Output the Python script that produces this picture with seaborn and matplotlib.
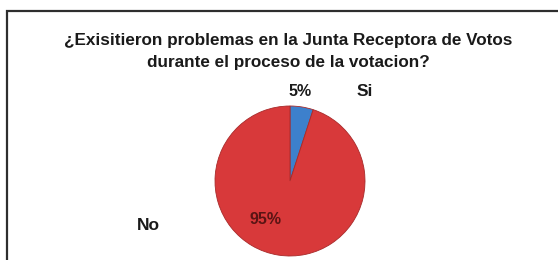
import matplotlib.pyplot as plt
from matplotlib.patches import Rectangle
import seaborn as sns

# Data
answers = ['Si', 'No']
shares = [5, 95]
slice_colors = ['#3d80cc', '#d8393a']
title_lines = ['¿Exisitieron problemas en la Junta Receptora de Votos',
               'durante el proceso de la votacion?']

sns.set_theme(style='white')
plt.rcParams['font.family'] = ['Liberation Sans', 'DejaVu Sans']

W, H = 558, 260
fig = plt.figure(figsize=(W / 100, H / 100), dpi=100)
ax = fig.add_axes([0, 0, 1, 1])


def py(y):
    # picture y (top-down) -> axes y
    return H - y


# pie
cx, cy, r = 290, 181, 75
ax.pie(shares, colors=slice_colors, startangle=90, counterclock=False,
       center=(cx, py(cy)), radius=r, frame=True,
       wedgeprops=dict(edgecolor='#a82a2a', linewidth=0.6))
ax.set_xlim(0, W)
ax.set_ylim(0, H)
ax.set_aspect('equal')
ax.axis('off')

# frame around the chart
ax.add_patch(Rectangle((7, py(262)), 560, 251, fill=False,
                       edgecolor='#2e2e2e', linewidth=1.6, clip_on=False))

# title
ax.text(288, py(41), title_lines[0], ha='center', va='center',
        fontsize=12.3, fontweight='bold', color='#1a1a1a')
ax.text(288, py(62), title_lines[1], ha='center', va='center',
        fontsize=12.3, fontweight='bold', color='#1a1a1a')

# labels
pct_pos = [(300, 91), (266, 220)]
pct_colors = ['#1a1a1a', '#5a1414']
name_pos = [(365, 91), (148, 225)]
for i in range(len(answers)):
    ax.text(pct_pos[i][0], py(pct_pos[i][1]), f'{shares[i]}%', ha='center',
            va='center', fontsize=11.5, fontweight='bold', color=pct_colors[i])
    ax.text(name_pos[i][0], py(name_pos[i][1]), answers[i], ha='center',
            va='center', fontsize=12.5, fontweight='bold', color='#1a1a1a')

fig.savefig('out.png', dpi=100)
